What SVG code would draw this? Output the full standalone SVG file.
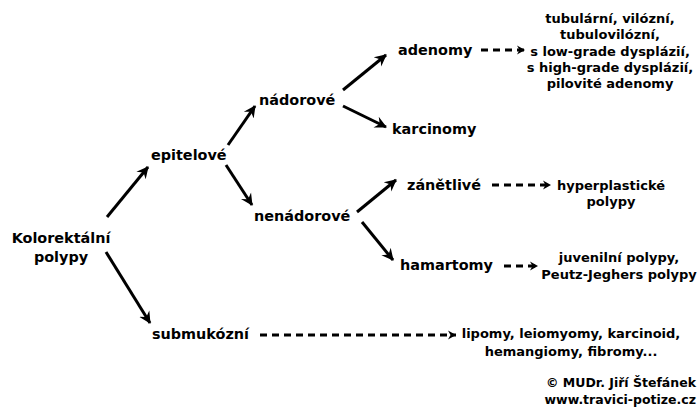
<svg xmlns="http://www.w3.org/2000/svg" width="700" height="414" viewBox="0 0 700 414">
<style>
text{font-family:"DejaVu Sans",Verdana,sans-serif;font-weight:bold;fill:#000}
.n{font-size:14.4px}
.s{font-size:13px;text-anchor:middle}
.c{font-size:12.5px;text-anchor:end}
.a{stroke:#000;stroke-width:3;fill:none}
.d{stroke:#000;stroke-width:3;fill:none;stroke-dasharray:7 5}
</style>
<defs>
<marker id="ah" markerUnits="userSpaceOnUse" markerWidth="14" markerHeight="14" refX="11" refY="7" orient="auto">
<path d="M0,1 L12,7 L0,13 L4,7 Z" fill="#000"/>
</marker>
<marker id="dh" markerUnits="userSpaceOnUse" markerWidth="12" markerHeight="12" refX="9" refY="6" orient="auto">
<path d="M1,1.5 L9,6 L1,10.5 L3.5,6 Z" fill="#000"/>
</marker>
</defs>
<g id="connectors">
<line class="a" x1="107" y1="217" x2="148" y2="167" marker-end="url(#ah)"/>
<line class="a" x1="106" y1="252" x2="150" y2="323" marker-end="url(#ah)"/>
<line class="a" x1="228" y1="145" x2="255" y2="106" marker-end="url(#ah)"/>
<line class="a" x1="226" y1="165" x2="252" y2="205" marker-end="url(#ah)"/>
<line class="a" x1="343" y1="90" x2="386" y2="55" marker-end="url(#ah)"/>
<line class="a" x1="343" y1="106" x2="386" y2="127" marker-end="url(#ah)"/>
<line class="a" x1="357" y1="212" x2="396" y2="180" marker-end="url(#ah)"/>
<line class="a" x1="362" y1="222" x2="393" y2="260" marker-end="url(#ah)"/>
<line class="d" x1="481" y1="50" x2="525" y2="50" marker-end="url(#dh)"/>
<line class="d" x1="492" y1="185" x2="551" y2="185" marker-end="url(#dh)"/>
<line class="d" x1="504" y1="266" x2="538" y2="266" marker-end="url(#dh)"/>
<line class="d" x1="260" y1="335" x2="456" y2="335" marker-end="url(#dh)"/>
</g>
<g id="kolorektalni"><text class="n" x="61" y="243" text-anchor="middle">Kolorektální</text><text class="n" x="61" y="262" text-anchor="middle">polypy</text></g>
<g id="epitelove"><text class="n" x="151" y="160">epitelové</text></g>
<g id="nadorove"><text class="n" x="259" y="105">nádorové</text></g>
<g id="nenadorove"><text class="n" x="254" y="221">nenádorové</text></g>
<g id="adenomy"><text class="n" x="398" y="55">adenomy</text></g>
<g id="karcinomy"><text class="n" x="392" y="134">karcinomy</text></g>
<g id="zanetlive"><text class="n" x="407" y="190">zánětlivé</text></g>
<g id="hamartomy"><text class="n" x="400" y="270">hamartomy</text></g>
<g id="submukozni"><text class="n" x="152" y="339">submukózní</text></g>
<g id="adenomy-typy">
<text class="s" x="610" y="23">tubulární, vilózní,</text>
<text class="s" x="610" y="39">tubulovilózní,</text>
<text class="s" x="610" y="56">s low-grade dysplázií,</text>
<text class="s" x="610" y="72">s high-grade dysplázií,</text>
<text class="s" x="610" y="88">pilovité adenomy</text>
</g>
<g id="hyperplasticke"><text class="s" x="611" y="190">hyperplastické</text><text class="s" x="611" y="206">polypy</text></g>
<g id="juvenilni"><text class="s" x="619" y="262">juvenilní polypy,</text><text class="s" x="619" y="279">Peutz-Jeghers polypy</text></g>
<g id="lipomy"><text class="s" x="571" y="338">lipomy, leiomyomy, karcinoid,</text><text class="s" x="571" y="356">hemangiomy, fibromy...</text></g>
<g id="copyright"><text class="c" x="696" y="387">© MUDr. Jiří Štefánek</text><text class="c" x="696" y="404">www.travici-potize.cz</text></g>
</svg>
